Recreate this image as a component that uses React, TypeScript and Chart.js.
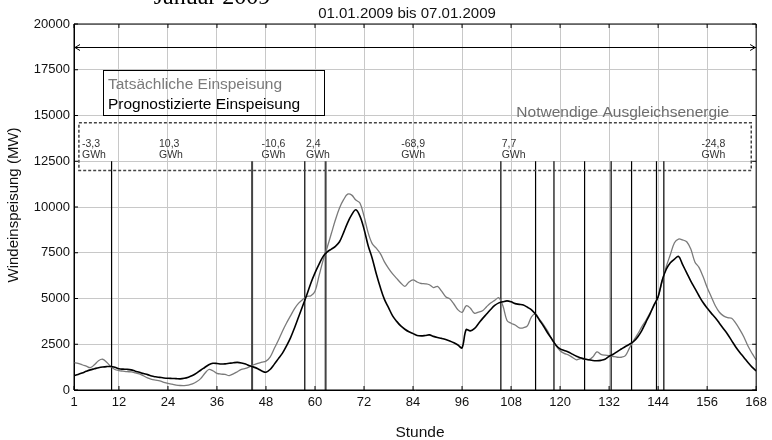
import React, { useEffect, useRef } from "react";
import { Chart, registerables } from "chart.js";

Chart.register(...registerables);

const hours: number[] = Array.from({ length: 168 }, (_, i) => i + 1);

const forecast: number[] = [
  790, 850, 930, 1020, 1100, 1160, 1220, 1260, 1280, 1280, 1240, 1160,
  1140, 1130, 1100, 1030, 970, 900, 840, 760, 720, 690, 660, 640,
  630, 620, 610, 640, 700, 790, 920, 1080, 1230, 1380, 1460, 1450,
  1420, 1430, 1460, 1490, 1510, 1480, 1420, 1320, 1250, 1160, 1040, 970,
  1120, 1400, 1700, 2000, 2400, 2850, 3400, 4000, 4600, 5200, 5850, 6400,
  6880, 7300, 7550, 7700, 7850, 8100, 8600, 9150, 9580, 9850, 9500, 8800,
  7900, 7200, 6350, 5600, 4950, 4500, 4050, 3750, 3500, 3320, 3180, 3080,
  2980, 2960, 2980, 3010, 2930, 2870, 2820, 2760, 2680, 2580, 2460, 2300,
  3300, 3230, 3350, 3620, 3900, 4150, 4400, 4620, 4760, 4820, 4870, 4820,
  4720, 4680, 4640, 4520, 4380, 4140, 3800, 3470, 3100, 2780, 2450, 2250,
  2160, 2080, 1960, 1840, 1760, 1690, 1650, 1610, 1600, 1620, 1680, 1840,
  1950, 2100, 2240, 2380, 2500, 2650, 2900, 3250, 3700, 4150, 4650, 5100,
  6000, 6600, 6950, 7150, 7300, 6850, 6400, 5950, 5550, 5150, 4780, 4480,
  4200, 3950, 3650, 3350, 3050, 2700, 2350, 2050, 1780, 1500, 1250, 1040,
];

const actual: number[] = [
  1500, 1450, 1380, 1300, 1220, 1380, 1600, 1680, 1520, 1280, 1120, 1060,
  1030, 1000, 990, 940, 880, 780, 660, 580, 540, 500, 420, 360,
  320, 270, 245, 240, 270, 330, 450, 620, 900, 1120, 1050, 910,
  870, 850, 790, 880, 1000, 1130, 1180, 1270, 1380, 1460, 1520, 1580,
  1800, 2250, 2700, 3200, 3650, 4050, 4450, 4745, 4950, 5110, 5150, 5400,
  6250, 7100, 7800, 8550, 9300, 9950, 10400, 10700, 10650, 10380, 10220, 9500,
  8600, 8000, 7750, 7450, 7000, 6650, 6350, 6100, 5850, 5660, 5900, 6020,
  5900, 5820, 5800, 5750, 5600, 5660, 5400, 5100, 4980, 4700, 4380, 4240,
  4600, 4480, 4200, 4250, 4330, 4550, 4750, 4900, 5040, 4600, 3800, 3650,
  3550, 3400, 3400, 3500, 4000, 4140, 3850, 3550, 3200, 2750, 2420, 2150,
  2000, 1920, 1780, 1650, 1720, 1690, 1650, 1800, 2080, 1950, 1900, 1880,
  1830, 1790, 1790, 1880, 2300, 2700, 3050, 3450, 3800, 4200, 4620, 5080,
  5950, 6750, 7400, 8050, 8250, 8200, 8100, 7700, 7000, 6700, 6200, 5600,
  5100, 4600, 4250, 4050, 3950, 3920, 3650, 3300, 2900, 2400, 2000, 1640,
];

const crossingHours: number[] = [10.2, 44.6, 57.5, 62.6, 105.5, 114.0, 118.5, 126.0, 132.5, 137.5, 143.6, 145.4];
const crossingTop = 12500;

const balanceValues: string[] = ["-3,3", "10,3", "-10,6", "2,4", "-68,9", "7,7", "-24,8"];
const balanceHours: number[] = [2.95, 21.8, 46.9, 57.8, 81.1, 105.7, 154.6];

const xTicks: number[] = [1, 12, 24, 36, 48, 60, 72, 84, 96, 108, 120, 132, 144, 156, 168];
const yMax = 20000;
const yStep = 2500;

const boxStartHour = 2.2;
const boxEndHour = 166.8;
const boxTopValue = 14600;
const boxBottomValue = 12000;
const arrowValue = 18750;

const mainTitle = "Januar 2009";
const subTitle = "01.01.2009 bis 07.01.2009";
const yTitle = "Windeinspeisung (MW)";
const xTitle = "Stunde";
const legendActual = "Tatsächliche Einspeisung";
const legendForecast = "Prognostizierte Einspeisung";
const balanceTitle = "Notwendige Ausgleichsenergie";

const SANS = '"Liberation Sans", Arial, Helvetica, sans-serif';

const annotPlugin = {
  id: "annot",
  afterDraw(chart: any) {
    const { ctx, chartArea: ca, scales } = chart;
    const x = scales.x;
    const y = scales.y;
    ctx.save();

    // frame
    ctx.strokeStyle = "#000";
    ctx.lineWidth = 1;
    ctx.beginPath();
    ctx.rect(ca.left, ca.top, ca.right - ca.left, ca.bottom - ca.top);
    ctx.stroke();

    // inner ticks
    ctx.beginPath();
    for (const v of xTicks) {
      const px = x.getPixelForValue(v);
      ctx.moveTo(px, ca.bottom);
      ctx.lineTo(px, ca.bottom - 4);
      ctx.moveTo(px, ca.top);
      ctx.lineTo(px, ca.top + 4);
    }
    for (let v = 0; v <= yMax; v += yStep) {
      const py = y.getPixelForValue(v);
      ctx.moveTo(ca.left, py);
      ctx.lineTo(ca.left + 4, py);
      ctx.moveTo(ca.right, py);
      ctx.lineTo(ca.right - 4, py);
    }
    ctx.stroke();

    // double arrow
    const ay = Math.round(y.getPixelForValue(arrowValue)) + 0.5;
    const ax1 = x.getPixelForValue(1);
    const ax2 = x.getPixelForValue(168);
    ctx.beginPath();
    ctx.moveTo(ax1, ay);
    ctx.lineTo(ax2, ay);
    ctx.moveTo(ax1 + 6, ay - 3);
    ctx.lineTo(ax1 + 1, ay);
    ctx.lineTo(ax1 + 6, ay + 3);
    ctx.moveTo(ax2 - 6, ay - 3);
    ctx.lineTo(ax2 - 1, ay);
    ctx.lineTo(ax2 - 6, ay + 3);
    ctx.stroke();

    // dashed box
    const bx1 = x.getPixelForValue(boxStartHour);
    const bx2 = x.getPixelForValue(boxEndHour);
    const by1 = y.getPixelForValue(boxTopValue);
    const by2 = y.getPixelForValue(boxBottomValue);
    ctx.setLineDash([3, 2]);
    ctx.lineWidth = 1.5;
    ctx.strokeStyle = "#444";
    ctx.strokeRect(bx1, by1, bx2 - bx1, by2 - by1);
    ctx.setLineDash([]);

    // balance labels
    ctx.fillStyle = "#333";
    ctx.font = `10.5px ${SANS}`;
    ctx.textAlign = "left";
    ctx.textBaseline = "alphabetic";
    balanceValues.forEach((t, i) => {
      const px = x.getPixelForValue(balanceHours[i]);
      ctx.fillText(t, px, by1 + 24);
      ctx.fillText("GWh", px, by1 + 35);
    });

    // balance title
    ctx.fillStyle = "#6e6e6e";
    ctx.font = `15.5px ${SANS}`;
    ctx.textAlign = "right";
    ctx.fillText(balanceTitle, ca.right - 27, by1 - 6);

    // legend box
    const lx = ca.left + 29.5;
    const ly = ca.top + 46.5;
    ctx.strokeStyle = "#000";
    ctx.lineWidth = 1;
    ctx.strokeRect(lx, ly, 221, 45);
    ctx.textAlign = "left";
    ctx.font = `15.5px ${SANS}`;
    ctx.fillStyle = "#7a7a7a";
    ctx.fillText(legendActual, lx + 4.5, ly + 18);
    ctx.fillStyle = "#000";
    ctx.fillText(legendForecast, lx + 4.5, ly + 38);

    // titles
    ctx.fillStyle = "#000";
    ctx.font = `24px "Liberation Serif", "Times New Roman", serif`;
    ctx.textAlign = "center";
    ctx.fillText(mainTitle, 212, 4);
    ctx.font = `15px ${SANS}`;
    ctx.fillStyle = "#111";
    ctx.fillText(subTitle, 407, 18);

    // axis titles
    ctx.font = `15.5px ${SANS}`;
    ctx.fillText(xTitle, 420, 437);
    ctx.save();
    ctx.translate(18, 205);
    ctx.rotate(-Math.PI / 2);
    ctx.font = `15px ${SANS}`;
    ctx.fillText(yTitle, 0, 0);
    ctx.restore();

    ctx.restore();
  },
};

export default function App() {
  const ref = useRef<HTMLCanvasElement | null>(null);
  useEffect(() => {
    document.body.style.margin = "0";
    document.body.style.background = "#fff";
    const canvas = ref.current;
    if (!canvas) return;
    const verticalData: any[] = [];
    crossingHours.forEach((h) => {
      verticalData.push({ x: h, y: 0 });
      verticalData.push({ x: h, y: crossingTop });
      verticalData.push({ x: h, y: null });
    });
    const heavy = (idx: number) => {
      const k = Math.floor(idx / 3);
      return k === 1 || k === 3;
    };
    const chart = new Chart(canvas, {
      type: "line",
      data: {
        datasets: [
          {
            label: legendForecast,
            data: hours.map((h, i) => ({ x: h, y: forecast[i] })),
            borderColor: "#000",
            borderWidth: 1.6,
            pointRadius: 0,
            tension: 0.35,
            fill: false,
          },
          {
            label: legendActual,
            data: hours.map((h, i) => ({ x: h, y: actual[i] })),
            borderColor: "#7a7a7a",
            borderWidth: 1.3,
            pointRadius: 0,
            tension: 0.35,
            fill: false,
          },
          {
            label: "crossings",
            data: verticalData,
            borderColor: "#000",
            borderWidth: 1.2,
            pointRadius: 0,
            tension: 0,
            spanGaps: false,
            fill: false,
            segment: {
              borderColor: (c: any) => (heavy(c.p0DataIndex) ? "#444" : "#000"),
              borderWidth: (c: any) => (heavy(c.p0DataIndex) ? 2 : 1.2),
            },
          } as any,
        ],
      },
      options: {
        animation: false,
        responsive: false,
        devicePixelRatio: 1,
        layout: { padding: { top: 24, right: 12, left: 0, bottom: 0 } },
        plugins: { legend: { display: false }, tooltip: { enabled: false }, title: { display: false } },
        scales: {
          x: {
            type: "linear",
            min: 1,
            max: 168,
            afterBuildTicks: (s: any) => {
              s.ticks = xTicks.map((v) => ({ value: v }));
            },
            afterFit: (s: any) => {
              s.height = 50;
            },
            ticks: {
              autoSkip: false,
              maxRotation: 0,
              padding: 5,
              color: "#111",
              font: { family: SANS, size: 13 },
              callback: (v: any) => String(v),
            },
            grid: { color: "#c8c8c8", lineWidth: 1, drawTicks: false },
            border: { display: true, color: "#000" },
          },
          y: {
            type: "linear",
            min: 0,
            max: yMax,
            afterFit: (s: any) => {
              s.width = 74;
            },
            ticks: {
              stepSize: yStep,
              padding: 4,
              color: "#111",
              font: { family: SANS, size: 13 },
              callback: (v: any) => String(v),
            },
            grid: { color: "#c8c8c8", lineWidth: 1, drawTicks: false },
            border: { display: true, color: "#000" },
          },
        },
      },
      plugins: [annotPlugin],
    });
    return () => chart.destroy();
  }, []);
  return <canvas ref={ref} width={772} height={440} style={{ display: "block" }} />;
}
